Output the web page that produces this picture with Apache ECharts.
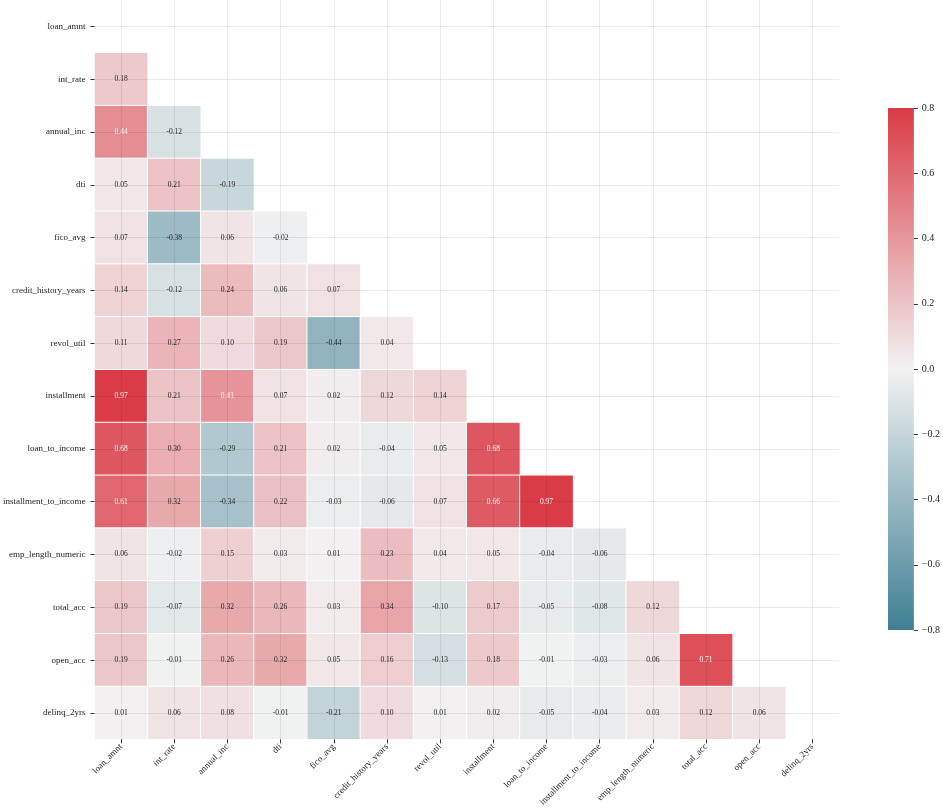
<!DOCTYPE html>
<html>
<head>
<meta charset="utf-8">
<title>correlation heatmap</title>
<script src="https://cdn.jsdelivr.net/npm/echarts@6/dist/echarts.min.js"></script>
<style>
  html, body { margin: 0; padding: 0; background: #fff; }
  #main { width: 943px; height: 809px; }
</style>
</head>
<body>
<div id="main"></div>
<script>
// 变量名 (top -> bottom, left -> right)
var labels = ['loan_amnt', 'int_rate', 'annual_inc', 'dti', 'fico_avg', 'credit_history_years',
    'revol_util', 'installment', 'loan_to_income', 'installment_to_income',
    'emp_length_numeric', 'total_acc', 'open_acc', 'delinq_2yrs'];

// lower triangle of the correlation matrix, row i has i values
var row_loan_amnt = [];
var row_int_rate = [0.18];
var row_annual_inc = [0.44, -0.12];
var row_dti = [0.05, 0.21, -0.19];
var row_fico_avg = [0.07, -0.38, 0.06, -0.02];
var row_credit_history = [0.14, -0.12, 0.24, 0.06, 0.07];
var row_revol_util = [0.11, 0.27, 0.10, 0.19, -0.44, 0.04];
var row_installment = [0.97, 0.21, 0.41, 0.07, 0.02, 0.12, 0.14];
var row_loan_to_income = [0.68, 0.30, -0.29, 0.21, 0.02, -0.04, 0.05, 0.68];
var row_inst_to_income = [0.61, 0.32, -0.34, 0.22, -0.03, -0.06, 0.07, 0.66, 0.97];
var row_emp_length = [0.06, -0.02, 0.15, 0.03, 0.01, 0.23, 0.04, 0.05, -0.04, -0.06];
var row_total_acc = [0.19, -0.07, 0.32, 0.26, 0.03, 0.34, -0.10, 0.17, -0.05, -0.08, 0.12];
var row_open_acc = [0.19, -0.01, 0.26, 0.32, 0.05, 0.16, -0.13, 0.18, -0.01, -0.03, 0.06, 0.71];
var row_delinq_2yrs = [0.01, 0.06, 0.08, -0.01, -0.21, 0.10, 0.01, 0.02, -0.05, -0.04, 0.03, 0.12, 0.06];

var corrRows = [row_loan_amnt, row_int_rate, row_annual_inc, row_dti, row_fico_avg,
    row_credit_history, row_revol_util, row_installment, row_loan_to_income,
    row_inst_to_income, row_emp_length, row_total_acc, row_open_acc, row_delinq_2yrs];

// colorbar range
var vMin = -0.8, vMax = 0.8;
var cmapColors = ['#3f7f93', '#f2f2f2', '#da3b46'];  // low -> high

var serif = "'Liberation Serif', 'DejaVu Serif', serif";

// [x, y, 颜色用的值(clip到色标范围), 原始值]
var heatData = [];
for (var i = 0; i < corrRows.length; i++) {
    for (var j = 0; j < corrRows[i].length; j++) {
        var v = corrRows[i][j];
        var vc = Math.max(vMin, Math.min(vMax, v));
        heatData.push({
            value: [j, i, vc, v],
            label: { color: v > 0.4 ? '#ffffff' : '#262626' }
        });
    }
}

var myChart = echarts.init(document.getElementById('main'), null, { renderer: 'canvas' });

// colorbar: grid background drawn as gradient, ticks from the value axis
var barGradient = new echarts.graphic.LinearGradient(0, 0, 0, 1, [
    { offset: 0, color: cmapColors[2] },
    { offset: 0.5, color: cmapColors[1] },
    { offset: 1, color: cmapColors[0] }
]);

var option = {
    backgroundColor: '#ffffff',
    animation: false,
    grid: [
        { left: 92, top: -4, width: 747, height: 746 },
        { left: 888, top: 108, width: 28, height: 522, show: true, backgroundColor: barGradient, borderWidth: 0 }
    ],
    xAxis: [
        {
            type: 'category',
            data: labels,
            gridIndex: 0,
            z: 3,
            axisLine: { show: false },
            axisTick: { show: true, alignWithLabel: true, length: 4, lineStyle: { color: '#333' } },
            splitLine: { show: true, alignWithLabel: true, lineStyle: { color: 'rgba(0,0,0,0.08)', width: 1 } },
            axisLabel: { rotate: 45, fontSize: 9, fontFamily: serif, color: '#222', margin: 6, interval: 0 }
        },
        {
            type: 'category',
            data: [''],
            gridIndex: 1,
            show: false
        }
    ],
    yAxis: [
        {
            type: 'category',
            data: labels,
            inverse: true,
            gridIndex: 0,
            z: 3,
            axisLine: { show: false },
            axisTick: { show: true, alignWithLabel: true, length: 4, lineStyle: { color: '#333' } },
            splitLine: { show: true, alignWithLabel: true, lineStyle: { color: 'rgba(0,0,0,0.08)', width: 1 } },
            axisLabel: { fontSize: 9, fontFamily: serif, color: '#222', margin: 9, interval: 0 }
        },
        {
            type: 'value',
            gridIndex: 1,
            position: 'right',
            min: vMin,
            max: vMax,
            interval: 0.2,
            axisLine: { show: false, onZero: false },
            axisTick: { show: true, length: 4, lineStyle: { color: '#333' } },
            minorTick: { show: false },
            splitLine: { show: false },
            axisLabel: {
                fontSize: 10, fontFamily: serif, color: '#222', margin: 8,
                formatter: function (v) {
                    if (Math.abs(v) < 1e-9) return '0.0';
                    return (v < 0 ? '\u2212' : '') + Math.abs(v).toFixed(1);
                }
            }
        }
    ],
    visualMap: {
        type: 'continuous',
        show: false,
        seriesIndex: 0,
        dimension: 2,
        min: vMin,
        max: vMax,
        inRange: { color: cmapColors }
    },
    series: [
        {
            type: 'heatmap',
            xAxisIndex: 0,
            yAxisIndex: 0,
            data: heatData,
            itemStyle: { borderColor: '#ffffff', borderWidth: 1 },
            label: {
                show: true,
                fontSize: 7.5,
                fontFamily: serif,
                formatter: function (p) { return p.value[3].toFixed(2); }
            },
            emphasis: { disabled: true }
        }
    ]
};

myChart.setOption(option);
</script>
</body>
</html>
